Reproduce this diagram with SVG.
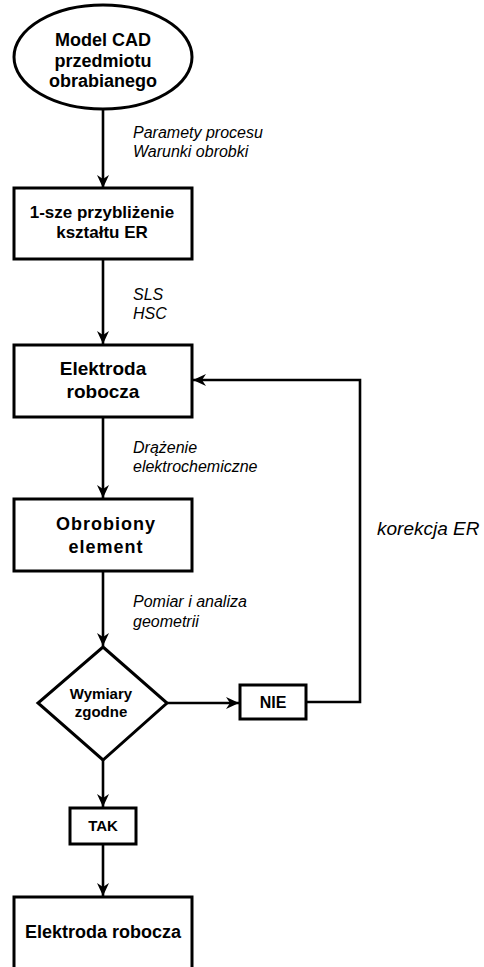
<svg xmlns="http://www.w3.org/2000/svg" width="484" height="967" viewBox="0 0 484 967">
<defs>
<marker id="arr" markerUnits="userSpaceOnUse" markerWidth="14" markerHeight="14" viewBox="0 0 14 14" refX="13" refY="7" orient="auto">
<path d="M0,1 L13,7 L0,13 L4,7 Z" fill="#000"/>
</marker>
</defs>
<style>
.shape{fill:#fff;stroke:#000;stroke-width:3}
.conn{fill:none;stroke:#000;stroke-width:2.6;marker-end:url(#arr)}
.b{font-family:"Liberation Sans",Arial,sans-serif;font-weight:bold;fill:#000;text-anchor:middle}
.i{font-family:"Liberation Sans",Arial,sans-serif;font-style:italic;fill:#000;font-size:16px}
</style>
<rect width="484" height="967" fill="#fff"/>
<g id="connectors">
<line class="conn" x1="103" y1="109" x2="103" y2="188"/>
<line class="conn" x1="103" y1="259" x2="103" y2="344"/>
<line class="conn" x1="103" y1="417" x2="103" y2="498"/>
<line class="conn" x1="103" y1="571" x2="103" y2="646"/>
<line class="conn" x1="167" y1="703" x2="239" y2="703"/>
<polyline class="conn" points="306,702 360,702 360,380 193,380"/>
<line class="conn" x1="103" y1="760" x2="103" y2="807"/>
<line class="conn" x1="103" y1="844" x2="103" y2="896"/>
</g>
<g id="labels">
<text class="i" x="133" y="138">Paramety procesu</text>
<text class="i" x="133" y="157">Warunki obrobki</text>
<text class="i" x="133" y="300">SLS</text>
<text class="i" x="133" y="319">HSC</text>
<text class="i" x="133" y="453">Drążenie</text>
<text class="i" x="133" y="472">elektrochemiczne</text>
<text class="i" x="133" y="607">Pomiar i analiza</text>
<text class="i" x="133" y="627">geometrii</text>
<text class="i" x="377" y="535" style="font-size:19px">korekcja ER</text>
</g>
<g id="node-start">
<ellipse class="shape" cx="103" cy="57" rx="89" ry="52"/>
<text class="b" x="103" y="46" font-size="18">Model CAD</text>
<text class="b" x="103" y="67" font-size="18">przedmiotu</text>
<text class="b" x="103" y="87" font-size="18">obrabianego</text>
</g>
<g id="node-approx">
<rect class="shape" x="14" y="188" width="178" height="71"/>
<text class="b" x="102" y="218" font-size="17">1-sze przybliżenie</text>
<text class="b" x="102" y="238" font-size="17">kształtu ER</text>
</g>
<g id="node-electrode">
<rect class="shape" x="14" y="345" width="178" height="72"/>
<text class="b" x="103" y="375" font-size="19">Elektroda</text>
<text class="b" x="103" y="398" font-size="19">robocza</text>
</g>
<g id="node-element">
<rect class="shape" x="14" y="499" width="178" height="72"/>
<text class="b" x="106" y="530" font-size="18" letter-spacing="1">Obrobiony</text>
<text class="b" x="106" y="553" font-size="18" letter-spacing="1">element</text>
</g>
<g id="node-decision">
<polygon class="shape" points="103,647 167,703 103,760 38,703"/>
<text class="b" x="101" y="699" font-size="15">Wymiary</text>
<text class="b" x="101" y="717" font-size="15">zgodne</text>
</g>
<g id="node-nie">
<rect class="shape" x="240" y="685" width="66" height="34"/>
<text class="b" x="273" y="708" font-size="16">NIE</text>
</g>
<g id="node-tak">
<rect class="shape" x="70" y="808" width="66" height="36"/>
<text class="b" x="103" y="831" font-size="15">TAK</text>
</g>
<g id="node-final">
<rect class="shape" x="14" y="897" width="178" height="80"/>
<text class="b" x="103" y="938" font-size="18">Elektroda robocza</text>
</g>
</svg>
